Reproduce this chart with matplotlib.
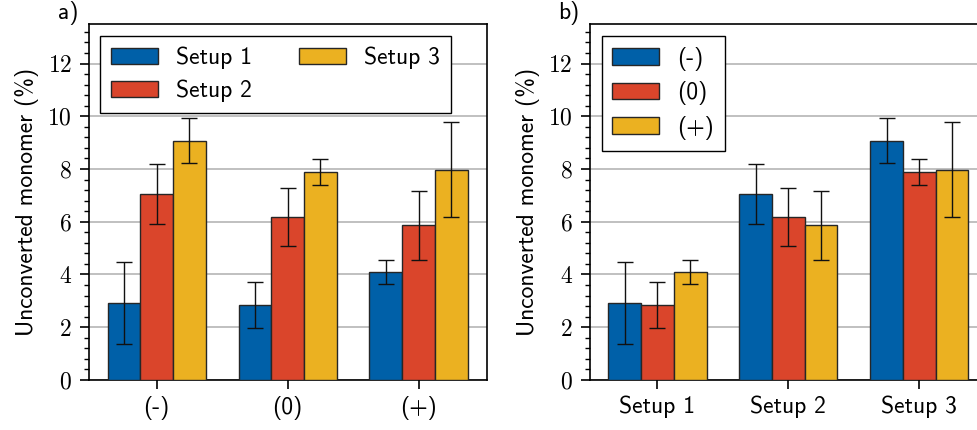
import numpy as np
import matplotlib
matplotlib.use('Agg')
import matplotlib.pyplot as plt
from matplotlib.ticker import MultipleLocator

# data (unconverted monomer, %)
conditions = ['(-)', '(0)', '(+)']
setups = ['Setup 1', 'Setup 2', 'Setup 3']
# rows: setups, cols: conditions
means = np.array([[2.92, 2.85, 4.09],
                  [7.06, 6.17, 5.86],
                  [9.08, 7.88, 7.98]])
errs = np.array([[1.55, 0.86, 0.45],
                 [1.13, 1.10, 1.30],
                 [0.86, 0.50, 1.80]])

colors = ['#0060A8', '#DA452B', '#EBB121']
sans = 'cmss10'
serif = 'cmr10'

plt.rcParams['axes.formatter.use_mathtext'] = True


def panel(ax, groups, series, vals, err, label):
    x = np.arange(len(groups))
    w = 0.25
    for i, name in enumerate(series):
        ax.bar(x + (i - 1) * w, vals[i], w, yerr=err[i], color=colors[i],
               edgecolor='#262626', linewidth=1.0, label=name, zorder=3,
               error_kw=dict(ecolor='#111111', elinewidth=1.0, capsize=6,
                             capthick=1.0, zorder=4))
    ax.set_xlim(-0.515, 2.52)
    ax.set_ylim(0, 13.5)
    ax.set_xticks(x)
    ax.set_xticklabels(groups, fontfamily=sans, fontsize=17)
    ax.yaxis.set_major_locator(MultipleLocator(2))
    ax.yaxis.set_minor_locator(MultipleLocator(0.4))
    for t in ax.get_yticklabels():
        t.set_fontfamily(serif)
        t.set_fontsize(17)
    ax.tick_params(axis='x', which='major', direction='out', length=6.5, width=1.2, pad=5)
    ax.tick_params(axis='y', which='major', direction='out', length=6.5, width=1.2, pad=6)
    ax.tick_params(axis='y', which='minor', direction='out', length=3.3, width=1.0)
    ax.tick_params(axis='x', which='minor', bottom=False)
    ax.grid(axis='y', which='major', color='#bbbbbb', linewidth=1.3, zorder=0)
    ax.set_axisbelow(True)
    for s in ax.spines.values():
        s.set_linewidth(1.2)
    ax.set_ylabel('Unconverted monomer (%)', fontfamily=sans, fontsize=17, labelpad=6)
    ax.text(-0.028, 1.03, label, transform=ax.transAxes, ha='right', va='center',
            fontfamily=sans, fontsize=17)


fig = plt.figure(figsize=(9.78, 4.30), dpi=100)
ax1 = fig.add_axes([0.0913, 0.1163, 0.4063, 0.828])
ax2 = fig.add_axes([0.6033, 0.1163, 0.4063, 0.828])

leg_kw = dict(loc='upper left', prop={'family': sans, 'size': 17}, frameon=True,
              fancybox=False, edgecolor='black', framealpha=1, handlelength=2.0,
              handleheight=0.72, handletextpad=0.76, labelspacing=0.45,
              borderpad=0.45, borderaxespad=0)

# a) grouped by condition, coloured by setup
panel(ax1, conditions, setups, means, errs, 'a)')
leg1 = ax1.legend(ncol=2, bbox_to_anchor=(0.027, 0.966), columnspacing=2.0, **leg_kw)
leg1.get_frame().set_linewidth(1.0)

# b) grouped by setup, coloured by condition
panel(ax2, setups, conditions, means.T, errs.T, 'b)')
leg2 = ax2.legend(bbox_to_anchor=(0.029, 0.966), **leg_kw)
leg2.get_frame().set_linewidth(1.0)

fig.savefig('out.png', dpi=100)
